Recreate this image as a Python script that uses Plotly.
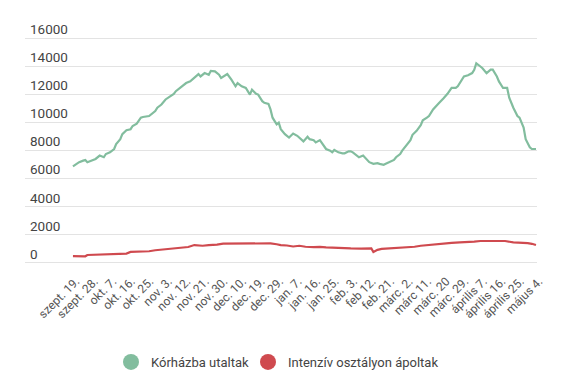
import plotly.graph_objects as go

# tick labels (every 9th data row)
tick_days = list(range(0, 226, 9))
tick_labels = ["szept. 19.", "szept. 28.", "okt. 7.", "okt. 16.", "okt. 25.", "nov. 3.",
               "nov. 12.", "nov. 21.", "nov. 30.", "dec. 10.", "dec. 19.", "dec. 29.",
               "jan. 7.", "jan. 16.", "jan. 25.", "feb. 3.", "feb 12.", "feb. 21.",
               "márc. 2.", "márc 11.", "márc. 20", "márc. 29.", "április 7.",
               "április 16.", "április 25.", "május 4."]
y_ticks = [0, 2000, 4000, 6000, 8000, 10000, 12000, 14000, 16000]
y_tick_labels = ["0", "2000", "4000", "6000", "8000", "10000", "12000", "14000", "16000"]

# Kórházba utaltak (row index, value)
hosp_days = [0, 2, 3, 5, 6, 7, 9, 11, 13, 15, 16, 18, 20, 21, 23, 24, 26, 28, 29, 31,
             33, 34, 37, 38, 40, 41, 43, 45, 47, 49, 50, 52, 54, 55, 57, 58, 60, 61, 62,
             64, 66, 67, 69, 71, 72, 74, 75, 77, 79, 80, 82, 84, 85, 86, 87, 89, 90, 92,
             93, 95, 96, 97, 99, 100, 101, 103, 105, 106, 107, 109, 110, 112, 114, 115,
             117, 118, 120, 122, 123, 125, 126, 127, 129, 131, 132, 134, 135, 136, 138,
             139, 141, 143, 144, 146, 148, 149, 151, 152, 154, 156, 157, 159, 160, 162,
             164, 165, 167, 169, 170, 172, 173, 175, 177, 178, 180, 182, 184, 186, 187,
             189, 190, 192, 194, 195, 196, 198, 199, 201, 203, 204, 206, 207, 209, 211,
             212, 214, 216, 217, 219, 220, 222, 223, 225]
hosp_vals = [6880, 7100, 7180, 7290, 7340, 7180, 7290, 7410, 7650, 7530, 7760, 7880, 8120,
             8470, 8820, 9180, 9460, 9530, 9760, 9930, 10350, 10400, 10470, 10590, 10820,
             11060, 11290, 11650, 11880, 12050, 12240, 12470, 12710, 12820, 12940, 13060,
             13290, 13460, 13290, 13530, 13410, 13690, 13650, 13410, 13180, 13410, 13460,
             13060, 12590, 12820, 12590, 12470, 12240, 12000, 12350, 12050, 12000, 11530,
             11410, 11340, 10940, 10350, 9880, 10000, 9530, 9180, 8940, 9060, 9220, 9060,
             8940, 8660, 8990, 8820, 8750, 8590, 8750, 8350, 8120, 8000, 7880, 8050, 7880,
             7810, 7810, 7950, 7950, 7880, 7650, 7530, 7650, 7340, 7180, 7060, 7110, 7060,
             6990, 7060, 7180, 7340, 7530, 7760, 8000, 8350, 8750, 9130, 9410, 9810, 10160,
             10350, 10470, 10940, 11290, 11410, 11720, 12050, 12470, 12470, 12590, 13060,
             13290, 13370, 13530, 13770, 14230, 14000, 13880, 13530, 13770, 13770, 13290,
             12940, 12470, 12470, 11770, 11060, 10470, 10350, 9650, 8820, 8240, 8120, 8120]

# Intenzív osztályon ápoltak (row index, value)
icu_days = [0, 3, 6, 7, 12, 16, 22, 26, 28, 33, 37, 40, 45, 49, 53, 56, 59, 61, 63, 66,
            68, 70, 73, 80, 90, 96, 99, 101, 104, 107, 110, 113, 117, 120, 123, 126, 128,
            131, 135, 140, 145, 146, 148, 150, 153, 158, 162, 166, 169, 172, 176, 180, 184,
            188, 192, 195, 198, 204, 208, 210, 214, 218, 221, 223, 225]
icu_vals = [480, 470, 470, 560, 590, 630, 650, 660, 780, 790, 830, 900, 960, 1030, 1080,
            1130, 1270, 1230, 1220, 1260, 1270, 1300, 1370, 1390, 1390, 1390, 1330, 1270,
            1240, 1170, 1220, 1150, 1120, 1140, 1100, 1080, 1030, 1060, 1030, 1020, 1030,
            780, 930, 1000, 1030, 1050, 1100, 1150, 1220, 1270, 1350, 1410, 1430, 1460,
            1470, 1520, 1560, 1580, 1570, 1560, 1460, 1440, 1410, 1360, 1270]

series_names = ["Kórházba utaltak", "Intenzív osztályon ápoltak"]
green = "#82bd9e"
red = "#cf4a4f"

fig = go.Figure()
fig.add_trace(go.Scatter(x=hosp_days, y=hosp_vals, mode="lines", name=series_names[0],
                         line=dict(color=green, width=2.2), showlegend=False))
fig.add_trace(go.Scatter(x=icu_days, y=icu_vals, mode="lines", name=series_names[1],
                         line=dict(color=red, width=2.2), showlegend=False))
# legend entries as circles (one legend each, so they can be placed exactly)
fig.add_trace(go.Scatter(x=[None], y=[None], mode="markers", name=series_names[0],
                         marker=dict(color=green, size=16, symbol="circle"),
                         legend="legend"))
fig.add_trace(go.Scatter(x=[None], y=[None], mode="markers", name=series_names[1],
                         marker=dict(color=red, size=16, symbol="circle"),
                         legend="legend2"))

leg_common = dict(orientation="h", xref="container", yref="container",
                  xanchor="left", y=1 - 354 / 388, yanchor="middle",
                  font=dict(size=13, color="#444444"), itemsizing="trace",
                  bgcolor="rgba(0,0,0,0)")
fig.update_layout(
    width=575, height=388,
    margin=dict(l=17, r=46, t=7.5, b=131.9, autoexpand=False),
    paper_bgcolor="white", plot_bgcolor="white",
    font=dict(family="Roboto, sans-serif", color="#444444"),
    showlegend=True,
    legend=dict(x=103 / 575, **leg_common),
    legend2=dict(x=240 / 575, **leg_common),
)
fig.update_xaxes(range=[-23.3, 225.5], tickmode="array", tickvals=tick_days,
                 ticktext=tick_labels, tickangle=-45, showgrid=False, zeroline=False,
                 showline=False, ticks="", automargin=False,
                 ticklabelshift=3, ticklabelstandoff=7,
                 tickfont=dict(size=12, color="#555555"))
fig.update_yaxes(range=[-80, 17600], tickmode="array", tickvals=y_ticks,
                 ticktext=y_tick_labels, automargin=False,
                 showgrid=True, gridcolor="#e3e3e3", gridwidth=1, zeroline=False,
                 showline=False, ticks="", ticklabelposition="inside",
                 ticklabelshift=-9, ticklabelstandoff=2,
                 tickfont=dict(size=13.5, color="#444444"))

fig.write_html("out.html")
